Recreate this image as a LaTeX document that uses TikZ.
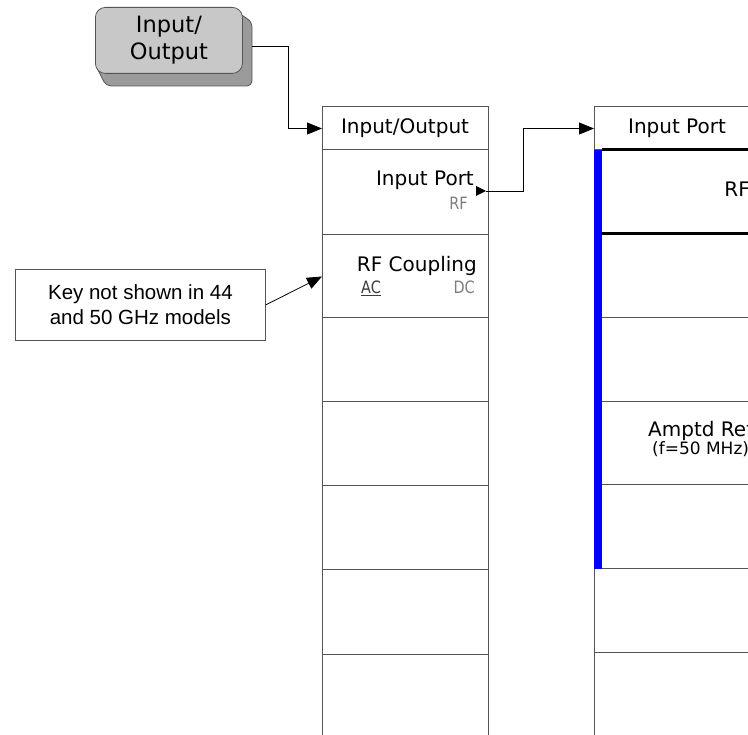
\documentclass[tikz,border=0pt]{standalone}
\usepackage{fontspec}
\setmainfont{DejaVu Sans}
\newfontfamily\arialfont{Liberation Sans}
\newfontfamily\narrowfont[FakeStretch=0.85]{DejaVu Sans}
\usetikzlibrary{arrows.meta}
\definecolor{linegray}{RGB}{85,85,85}
\definecolor{subgray}{RGB}{125,125,125}
\definecolor{seldark}{RGB}{60,60,60}
\definecolor{keyfront}{RGB}{200,200,200}
\definecolor{keyshadow}{RGB}{155,155,155}
\definecolor{barblue}{RGB}{0,0,255}
\begin{document}
\begin{tikzpicture}[x=1pt,y=-1pt,
  keycell/.style={draw=linegray, line width=1pt, minimum width=166pt, inner sep=0pt, outer sep=0pt, anchor=north west},
  keytext/.style={font=\fontsize{20}{24}\selectfont, inner sep=0pt},
  subtext/.style={font=\narrowfont\fontsize{17}{19}\selectfont, text=subgray, inner sep=0pt},
  conn/.style={draw=black, line width=0.8pt, -{Triangle[length=15pt,width=12pt]}},
]
\useasboundingbox (0,0) rectangle (748,735);
\clip (0,0) rectangle (748,735);

% ---- top hard key ----
\filldraw[fill=keyshadow, draw=linegray, line width=0.8pt, rounded corners=5pt]
  (230,7) -- (252,22) -- (252,86) -- (106,86) -- (95,64) -- cycle;
\node[draw=linegray, line width=0.8pt, fill=keyfront, rounded corners=10pt, minimum width=147pt, minimum height=66pt,
      anchor=north west, align=center, font=\fontsize{22.5}{27}\selectfont, inner sep=0pt] (tk) at (95,7) {Input/\\Output};
\coordinate (tkout) at (252,46.5);

% ---- left menu column ----
\node[keycell, minimum height=43pt] (hdrL) at (322,107) {};
\node[keycell, minimum height=85pt] (ipL) at (322,150) {};
\node[keycell, minimum height=83pt] (rfc) at (322,235) {};
\node[keycell, minimum height=84pt] (k4) at (322,318) {};
\node[keycell, minimum height=84pt] (k5) at (322,402) {};
\node[keycell, minimum height=84pt] (k6) at (322,486) {};
\node[keycell, minimum height=84pt] (k7) at (322,570) {};
\node[keycell, minimum height=90pt] (k8) at (322,654) {};

\node[keytext] (hdrLt) at (hdrL.center) {Input/Output};
\node[keytext, anchor=base east] (ipt) at (474,186) {Input Port};
\node[subtext, anchor=base east] (ipsub) at (468,210) {RF};
\fill (476,186) -- (486,191) -- (476,196) -- cycle;
\coordinate (ipout) at (486,191);
\node[keytext, anchor=base east] (rfct) at (477,272) {RF Coupling};
\node[subtext, text=seldark, anchor=base west] (ac) at (361,294) {\underline{AC}};
\node[subtext, anchor=base east] (dc) at (475,294) {DC};

% ---- right menu column ----
\node[keycell, minimum height=43pt] (hdrR) at (594,107) {};
\node[keycell, minimum height=84pt] (r2) at (594,150) {};
\node[keycell, minimum height=84pt] (r3) at (594,234) {};
\node[keycell, minimum height=84pt] (r4) at (594,318) {};
\node[keycell, minimum height=83pt] (r5) at (594,402) {};
\node[keycell, minimum height=84pt] (r6) at (594,485) {};
\node[keycell, minimum height=83pt] (r7) at (594,569) {};
\node[keycell, minimum height=90pt] (r8) at (594,652) {};
\fill[barblue] (594,150) rectangle (602,569);
\draw[line width=3pt] (602,150) -- (760,150);
\draw[line width=3pt] (602,234) -- (760,234);

\node[keytext] (hdrRt) at (hdrR.center) {Input Port};
\node[keytext, anchor=base east] (rft) at (750,197) {RF};
\node[keytext, anchor=base west] (amp) at (648,437) {Amptd Ref};
\node[font=\fontsize{17}{20}\selectfont, anchor=base west, inner sep=0pt] (ampf) at (652,455) {(f=50 MHz)};

% ---- callout ----
\node[draw=linegray, line width=0.8pt, minimum width=250pt, minimum height=71pt, anchor=north west, align=center,
      font=\arialfont\fontsize{20.5}{25}\selectfont, inner sep=0pt] (callout) at (15,269) {Key not shown in 44\\and 50 GHz models};

% ---- connectors ----
\draw[conn] (tkout) -- ++(36,0) |- (hdrL.west);
\draw[conn] (ipout) -- ++(37,0) |- (hdrR.west);
\draw[conn] (callout.east) -- (rfc.west);
\end{tikzpicture}
\end{document}
